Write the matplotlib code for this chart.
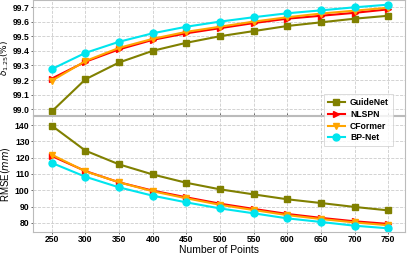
import matplotlib
matplotlib.use("Agg")
import matplotlib.pyplot as plt

plt.rcParams["font.family"] = ["Liberation Sans", "DejaVu Sans"]

points = [250, 300, 350, 400, 450, 500, 550, 600, 650, 700, 750]

delta_guidenet = [98.985, 99.205, 99.32, 99.40, 99.455, 99.50, 99.535, 99.57, 99.595, 99.62, 99.64]
delta_nlspn = [99.21, 99.325, 99.41, 99.475, 99.52, 99.555, 99.59, 99.62, 99.64, 99.66, 99.684]
delta_cformer = [99.195, 99.33, 99.42, 99.482, 99.53, 99.565, 99.60, 99.63, 99.655, 99.675, 99.695]
delta_bpnet = [99.275, 99.386, 99.462, 99.52, 99.565, 99.60, 99.63, 99.657, 99.677, 99.698, 99.716]

rmse_guidenet = [139.6, 124.3, 115.9, 109.7, 104.6, 100.6, 97.5, 94.5, 92.2, 89.8, 87.7]
rmse_nlspn = [121.0, 111.8, 104.9, 99.8, 95.7, 91.8, 88.6, 85.5, 83.1, 81.0, 79.4]
rmse_cformer = [121.8, 111.6, 104.9, 99.4, 95.1, 91.1, 87.9, 84.8, 82.4, 80.3, 78.6]
rmse_bpnet = [116.8, 108.3, 101.8, 96.7, 92.6, 88.9, 85.9, 82.8, 80.6, 78.3, 76.7]

names = ["GuideNet", "NLSPN", "CFormer", "BP-Net"]
colors = ["#808000", "#ff0000", "#ffa500", "#00e5ee"]
markers = ["s", ">", "v", "o"]

fig = plt.figure(figsize=(4.07, 2.54), dpi=100)
ax1 = fig.add_axes([0.081, 0.547, 0.914, 0.453])
ax2 = fig.add_axes([0.081, 0.087, 0.914, 0.456])

top = [delta_guidenet, delta_nlspn, delta_cformer, delta_bpnet]
bot = [rmse_guidenet, rmse_nlspn, rmse_cformer, rmse_bpnet]
handles = []
for vals, c, m, n in zip(top, colors, markers, names):
    h, = ax1.plot(points, vals, color=c, marker=m, markersize=5, linewidth=1.5, label=n)
    handles.append(h)
for vals, c, m in zip(bot, colors, markers):
    ax2.plot(points, vals, color=c, marker=m, markersize=5, linewidth=1.5)

for ax in (ax1, ax2):
    ax.set_xlim(222, 775)
    ax.set_xticks(points)
    ax.grid(True, linestyle="--", color="#cccccc", linewidth=0.6)
    ax.set_axisbelow(True)
    for s in ax.spines.values():
        s.set_color("#bbbbbb")
        s.set_linewidth(0.8)
    ax.tick_params(labelsize=6.2, length=1.5, width=0.6, color="#555555", pad=1)

ax1.set_ylim(98.96, 99.748)
ax1.set_yticks([99.0, 99.1, 99.2, 99.3, 99.4, 99.5, 99.6, 99.7])
ax1.set_yticklabels(["99.0", "99.1", "99.2", "99.3", "99.4", "99.5", "99.6", "99.7"], fontweight="bold")
ax1.tick_params(axis="x", labelbottom=False, direction="in")
ax1.set_ylabel(r"$\delta_{1.25}(\%)$", fontsize=6.5)
ax1.yaxis.set_label_coords(-0.058, 0.5)

ax2.set_ylim(74.5, 145.5)
ax2.set_yticks([80, 90, 100, 110, 120, 130, 140])
ax2.set_yticklabels(["80", "90", "100", "110", "120", "130", "140"], fontweight="bold")
ax2.set_xticklabels([str(p) for p in points], fontweight="bold")
ax2.set_ylabel(r"RMSE$(mm)$", fontsize=7)
ax2.yaxis.set_label_coords(-0.056, 0.5)
ax2.set_xlabel("Number of Points", fontsize=7.5)
ax2.xaxis.set_label_coords(0.5, -0.112)

leg = fig.legend(handles=handles, loc="upper left", bbox_to_anchor=(0.785, 0.645),
                 prop={"weight": "bold", "size": 6.2}, frameon=True,
                 handlelength=2.0, borderpad=0.45, labelspacing=0.3, handletextpad=0.6,
                 fancybox=False)
leg.get_frame().set_edgecolor("#cccccc")
leg.get_frame().set_linewidth(0.6)

fig.savefig("out.png", dpi=100)
